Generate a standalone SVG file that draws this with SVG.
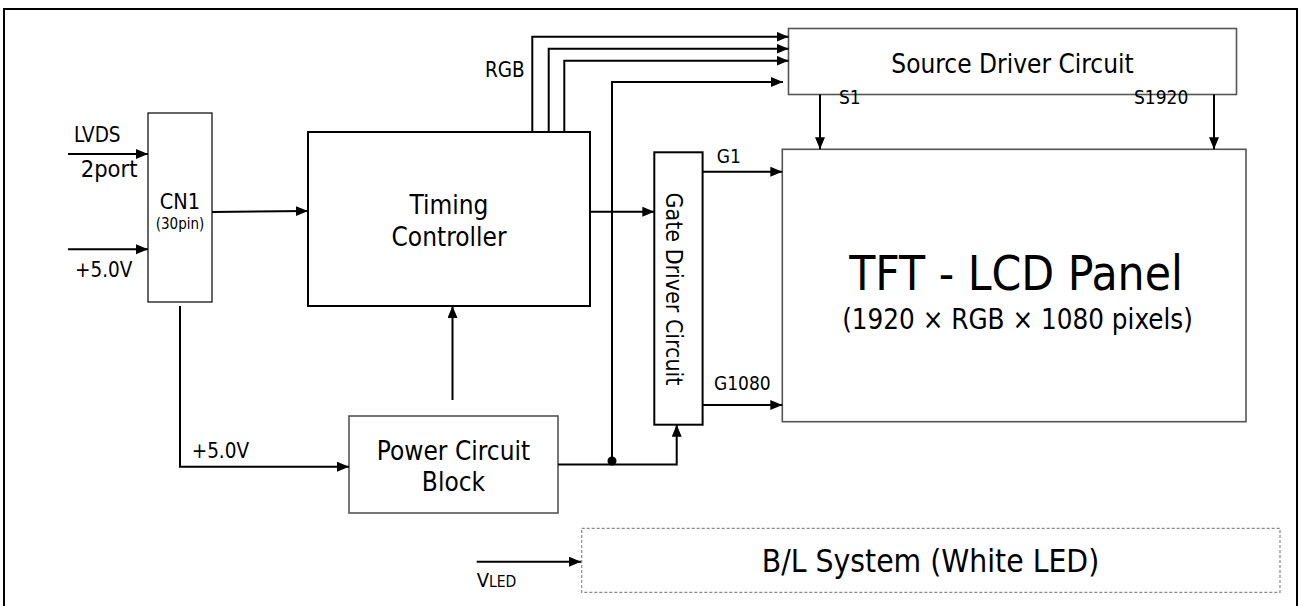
<svg xmlns="http://www.w3.org/2000/svg" width="1301" height="606" viewBox="0 0 1301 606">
<style>
text{font-family:"DejaVu Sans Condensed","DejaVu Sans","Liberation Sans",sans-serif;font-stretch:condensed;fill:#000}
.box{fill:#fff;stroke:#000;stroke-width:2}
.thin{fill:#fff;stroke:#000;stroke-width:1.2}
.grey{fill:#fff;stroke:#555;stroke-width:1.6}
.dash{fill:#fff;stroke:#888;stroke-width:1.2;stroke-dasharray:3 2}
.big{font-size:26px;text-anchor:middle}
.lbl{font-size:20.5px}
.sm{font-size:19px}
.w{fill:none;stroke:#000;stroke-width:2}
.a{marker-end:url(#ah)}
</style>
<defs>
<marker id="ah" markerUnits="userSpaceOnUse" markerWidth="13" markerHeight="11" refX="12" refY="5" orient="auto">
<path d="M0,0 L12,5 L0,10 z" fill="#000"/>
</marker>
</defs>
<rect id="frame" x="4" y="9" width="1293" height="610" fill="none" stroke="#000" stroke-width="2"/>

<g id="cn1">
<rect class="thin" x="148" y="113" width="64" height="189"/>
<text x="180" y="209" font-size="21.5" text-anchor="middle">CN1</text>
<text x="180" y="229" font-size="15" text-anchor="middle">(30pin)</text>
</g>
<g id="timing">
<rect class="box" x="308" y="132" width="282" height="174"/>
<text class="big" x="449" y="214">Timing</text>
<text class="big" x="449" y="245.5">Controller</text>
</g>
<g id="power">
<rect class="grey" x="349" y="416" width="209" height="97"/>
<text class="big" x="453.5" y="459.5">Power Circuit</text>
<text class="big" x="453.5" y="490.5">Block</text>
</g>
<g id="gate">
<rect class="box" x="654.3" y="152.3" width="48.3" height="272.4"/>
<text x="674" y="289" font-size="23" text-anchor="middle" dominant-baseline="central" transform="rotate(90 674 289)">Gate Driver Circuit</text>
</g>
<g id="source">
<rect class="grey" x="788.5" y="28.5" width="448" height="66"/>
<text class="big" x="1012.5" y="72.5">Source Driver Circuit</text>
</g>
<g id="panel">
<rect class="grey" x="782.3" y="149.3" width="463.7" height="272.4"/>
<text x="1016" y="290" font-size="47.5" text-anchor="middle">TFT - LCD Panel</text>
<text x="1017.5" y="329" font-size="27.5" text-anchor="middle">(1920 × RGB × 1080 pixels)</text>
</g>
<g id="backlight">
<rect class="dash" x="581.7" y="528.3" width="698.3" height="64"/>
<text x="930.5" y="572" font-size="31.5" text-anchor="middle">B/L System (White LED)</text>
</g>

<g id="connectors">
<line class="w a" x1="68" y1="154" x2="148" y2="154"/>
<line class="w a" x1="68" y1="249.3" x2="148" y2="249.3"/>
<line class="w a" x1="212" y1="212" x2="308" y2="211"/>
<polyline class="w a" points="180,306 180,466.7 349,466.7"/>
<line class="w a" x1="452.5" y1="400" x2="452.5" y2="306"/>
<polyline class="w a" points="532.3,132 532.3,36.7 788.5,36.7"/>
<polyline class="w a" points="548.7,132 548.7,48.7 788.5,48.7"/>
<polyline class="w a" points="564.3,132 564.3,60.7 788.5,60.7"/>
<polyline class="w a" points="612,464.5 612,82 783,82"/>
<line class="w a" x1="590" y1="211.7" x2="654.3" y2="211.7"/>
<polyline class="w a" points="558,464.5 676.7,464.5 676.7,424.7"/>
<circle cx="612" cy="461" r="4.5" fill="#000"/>
<line class="w a" x1="702.7" y1="171.7" x2="782.3" y2="171.7"/>
<line class="w a" x1="702.7" y1="405" x2="782.3" y2="405"/>
<line class="w a" x1="820" y1="94.5" x2="820" y2="149.3"/>
<line class="w a" x1="1214" y1="94.5" x2="1214" y2="149.3"/>
<line class="w a" x1="476.7" y1="561.7" x2="581" y2="561.7"/>
</g>

<g id="labels">
<text x="74" y="141.7" font-size="20.5">LVDS</text>
<text x="80.7" y="176.7" font-size="23.5">2port</text>
<text class="lbl" x="75" y="276.7">+5.0V</text>
<text class="lbl" x="191.7" y="458">+5.0V</text>
<text class="lbl" x="485" y="77">RGB</text>
<text class="sm" x="716.7" y="162.7">G1</text>
<text class="sm" x="714" y="390">G1080</text>
<text class="sm" x="839" y="104.3">S1</text>
<text class="sm" x="1134" y="104.3">S1920</text>
<text x="476.7" y="586.7" font-size="20">V<tspan font-size="15.5">LED</tspan></text>
</g>
</svg>
